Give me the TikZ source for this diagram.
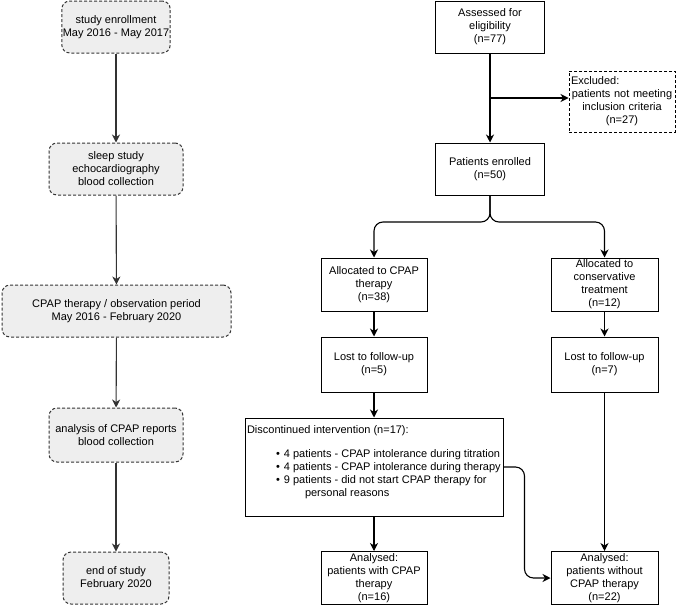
\documentclass[tikz,border=0pt]{standalone}
\usepackage{fontspec}
\setmainfont{Liberation Sans}
\usetikzlibrary{arrows.meta}
\definecolor{dgray}{HTML}{333333}
\definecolor{lgray}{HTML}{EEEEEE}
\newcommand{\dline}[2]{\makebox[254pt][l]{\hspace*{#1}#2}}
\tikzset{
  base/.style={font=\fontsize{11}{13}\selectfont, align=center, inner xsep=1pt, inner ysep=1pt, line width=1pt},
  phase/.style={base, draw=dgray, fill=lgray, dash pattern=on 3pt off 2pt, rounded corners=8pt},
  flowbox/.style={base, draw=black, rectangle},
  exbox/.style={base, draw=black, dash pattern=on 3pt off 2pt},
  tip/.style={-{Stealth[length=8pt,width=8pt,inset=2.5pt]}},
  garrow/.style={tip, draw=dgray, line width=1.1pt},
  barrow/.style={tip, draw=black, line width=1.1pt},
}
\begin{document}
\begin{tikzpicture}[x=1pt,y=-1pt]
\useasboundingbox (0,0) rectangle (676,605);
% left column
\node[phase, minimum width=106, minimum height=52] (s1) at (116,27) {study enrollment\\May 2016 - May 2017};
\node[phase, minimum width=134, minimum height=52] (s2) at (116,169) {sleep study\\echocardiography\\blood collection};
\node[phase, minimum width=229, minimum height=52] (s3) at (116.5,311) {CPAP therapy / observation period\\May 2016 - February 2020};
\node[phase, minimum width=134, minimum height=54] (s4) at (116,435) {analysis of CPAP reports\\blood collection};
\node[phase, minimum width=106, minimum height=52] (s5) at (116,578) {end of study\\February 2020};
\draw[garrow] (s1) -- (s2);
\draw[garrow] (s2) -- (s3);
\draw[garrow] (s3) -- (s4);
\draw[garrow] (s4) -- (s5);
% right column
\node[flowbox, minimum width=109, minimum height=52] (a) at (490,27) {Assessed for\\eligibility\\(n=77)};
\node[exbox, minimum width=106, minimum height=61, text width=102pt] (ex) at (622,101.5) {\makebox[102pt][l]{Excluded:}\\patients not meeting\\inclusion criteria\\(n=27)};
\node[flowbox, minimum width=109, minimum height=52] (p) at (490,169) {Patients enrolled\\(n=50)};
\node[flowbox, minimum width=106, minimum height=53] (ac) at (374,284.5) {Allocated to CPAP\\therapy\\(n=38)};
\node[flowbox, minimum width=107, minimum height=53] (cc) at (604.5,284.5) {Allocated to\\conservative\\treatment\\(n=12)};
\node[flowbox, minimum width=106, minimum height=55] (l5) at (374,364.5) {Lost to follow-up\\(n=5)};
\node[flowbox, minimum width=107, minimum height=55] (l7) at (604.5,364.5) {Lost to follow-up\\(n=7)};
\node[flowbox, minimum width=258, minimum height=98, align=left] (d) at (374,467) {\dline{0pt}{Discontinued intervention (n=17):}\\[11pt]
\dline{29pt}{\textbullet\hspace{4pt}4 patients - CPAP intolerance during titration}\\
\dline{29pt}{\textbullet\hspace{4pt}4 patients - CPAP intolerance during therapy}\\
\dline{29pt}{\textbullet\hspace{4pt}9 patients - did not start CPAP therapy for}\\
\dline{58pt}{personal reasons}\\[-1pt]\mbox{}};
\node[flowbox, minimum width=106, minimum height=53] (aw) at (374,578) {Analysed:\\patients with CPAP\\therapy\\(n=16)};
\node[flowbox, minimum width=107, minimum height=53] (an) at (604.5,578) {Analysed:\\patients without\\CPAP therapy\\(n=22)};
\coordinate (br) at (490,98);
\coordinate (j) at (490,222);
\draw[barrow] (a) -- (p);
\draw[barrow] (br) -- (ex.west |- br);
\draw[barrow, rounded corners=9pt] (p.south) -- (j) -| (ac.north);
\draw[barrow, rounded corners=9pt] (p.south) -- (j) -| (cc.north);
\draw[barrow] (ac) -- (l5);
\draw[barrow] (cc) -- (l7);
\draw[barrow] (l5) -- (d.north -| l5);
\draw[barrow] (d.south -| aw) -- (aw);
\draw[barrow] (l7) -- (an);
\draw[barrow, rounded corners=9pt] (d.east) -- ++(21,0) |- (an.west);
\end{tikzpicture}
\end{document}
